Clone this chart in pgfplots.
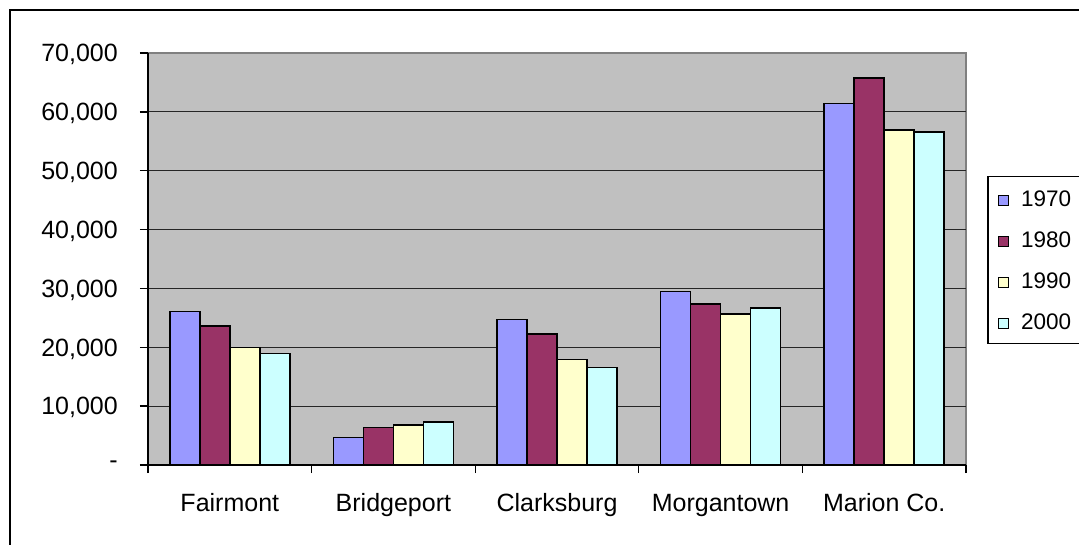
\documentclass[border=0pt]{standalone}
\usepackage{pgfplots}
\pgfplotsset{compat=1.18}
\usepackage{fontspec}
\setmainfont{Liberation Sans}
\definecolor{c70}{HTML}{9999FF}
\definecolor{c80}{HTML}{993366}
\definecolor{c90}{HTML}{FFFFCC}
\definecolor{c00}{HTML}{CCFFFF}
\definecolor{plotbg}{HTML}{C0C0C0}
\definecolor{plotframe}{HTML}{808080}
\pgfplotstableread{
idx y1970 y1980 y1990 y2000
0 26100 23650 19950 18950
1 4650 6350 6750 7350
2 24700 22300 17900 16550
3 29450 27400 25700 26700
4 61400 65800 56900 56600
}\datatable
\begin{document}
\begin{tikzpicture}
\path[use as bounding box] (0pt,0pt) rectangle (1079pt,544pt);
\draw[black, line width=1.5pt] (10pt,534pt) rectangle (1090pt,-10pt);
\begin{axis}[
  at={(148pt,79pt)}, anchor=south west,
  scale only axis, width=818pt, height=412pt,
  xmin=-0.5, xmax=4.5, ymin=0, ymax=70000,
  scaled y ticks=false,
  axis lines*=left,
  axis line style={-, black, line width=1.5pt},
  axis background/.style={fill=plotbg, draw=plotframe, line width=1.5pt},
  ybar=0pt, bar width=30pt,
  tick align=outside,
  major tick length=8pt,
  tick style={black, line width=1.3pt},
  ytick={0,10000,20000,30000,40000,50000,60000},
  yticklabels={{-},{10,000},{20,000},{30,000},{40,000},{50,000},{60,000}},
  extra y ticks={70000},
  extra y tick labels={70{,}000},
  extra y tick style={grid=none},
  ymajorgrids,
  major grid style={black!85, line width=1.2pt},
  yticklabel style={font=\fontsize{25pt}{30pt}\selectfont, text depth=0pt, inner sep=0pt, anchor=east, xshift=-22pt},
  xtick={-0.5,0.5,1.5,2.5,3.5,4.5},
  xticklabels={},
  extra x ticks={0,1,2,3,4},
  extra x tick labels={Fairmont,Bridgeport,Clarksburg,Morgantown,Marion Co.},
  extra x tick style={tick style={draw=none}},
  xticklabel style={font=\fontsize{25pt}{30pt}\selectfont, inner sep=0pt, anchor=base, yshift=-38pt},
  legend style={at={(1.0257,0.7015)}, anchor=north west, draw=black, line width=1.5pt,
    inner xsep=10pt, inner ysep=14pt, row sep=25pt, column sep=12pt,
    nodes={inner sep=0pt, text height=16pt, text depth=0pt, font=\fontsize{22.5pt}{27pt}\selectfont}},
  legend cell align=left,
  legend image code/.code={\draw[#1, draw=black, line width=1.3pt] (0pt,-7pt) rectangle (10pt,3pt);},
]
\addplot[fill=c70, draw=black, line width=1.6pt] table[x=idx, y=y1970] {\datatable};
\addplot[fill=c80, draw=black, line width=1.6pt] table[x=idx, y=y1980] {\datatable};
\addplot[fill=c90, draw=black, line width=1.6pt] table[x=idx, y=y1990] {\datatable};
\addplot[fill=c00, draw=black, line width=1.6pt] table[x=idx, y=y2000] {\datatable};
\legend{1970,1980,1990,2000}
\end{axis}
\end{tikzpicture}
\end{document}
